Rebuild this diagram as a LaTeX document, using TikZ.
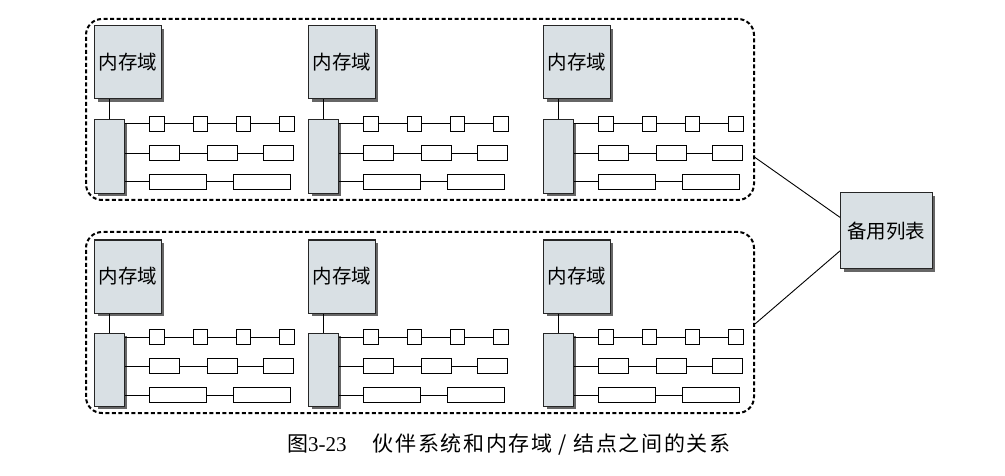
\documentclass[tikz,border=0pt]{standalone}
\usepackage{fontspec}
\setmainfont{Liberation Serif}
\newfontfamily\cjk{Noto Sans CJK SC}
\newfontfamily\cjkwide[LetterSpace=8]{Noto Sans CJK SC}
\usetikzlibrary{shadows,calc}
\definecolor{zonefill}{HTML}{D9E0E4}
\begin{document}
\begin{tikzpicture}[x=1pt,y=-1pt,
  zone/.style={draw=black!85, line width=1.1pt, fill=zonefill, rectangle, inner sep=0pt, anchor=north west,
    drop shadow={shadow xshift=3pt, shadow yshift=-3pt, fill=black!60, opacity=1},
    font=\cjk\fontsize{19.5}{20}\selectfont},
  cell/.style={draw, line width=0.9pt, fill=white, rectangle, inner sep=0pt, anchor=north west, minimum height=14.7pt},
  link/.style={line width=0.9pt},
  group/.style={draw, line width=2pt, dash pattern=on 4pt off 2.5pt, rounded corners=16pt, rectangle,
    inner sep=0pt, anchor=north west, minimum width=668pt, minimum height=181pt}]
\useasboundingbox (0,0) rectangle (1005,476);

\node[group] (g1) at (85,18) {};
\node[group] (g2) at (85,231) {};

\foreach \g/\ZY/\NY in {1/25/119.3, 2/239.5/332.5}{
  \foreach \u/\X in {1/94.3, 2/308.3, 3/543.3}{
    \node[zone, minimum width=66.5pt, minimum height=73pt] (z\g\u) at (\X,\ZY) {内存域};
    \node[zone, minimum width=29.5pt, minimum height=73.3pt] (n\g\u) at (\X,\NY) {};
    \draw[link] (n\g\u.north) -- (n\g\u.north |- z\g\u.south);
    % row 1
    \node[cell, minimum width=14.7pt] (a\g\u1) at ({\X+54.7},{\NY-3.35}) {};
    \node[cell, minimum width=14.7pt] (a\g\u2) at ({\X+98.2},{\NY-3.35}) {};
    \node[cell, minimum width=14.7pt] (a\g\u3) at ({\X+141.4},{\NY-3.35}) {};
    \node[cell, minimum width=14.7pt] (a\g\u4) at ({\X+185},{\NY-3.35}) {};
    \draw[link] (n\g\u.east |- a\g\u1.west) -- (a\g\u1.west);
    \draw[link] (a\g\u1) -- (a\g\u2) (a\g\u2) -- (a\g\u3) (a\g\u3) -- (a\g\u4);
    % row 2
    \node[cell, minimum width=30pt, minimum height=15pt] (b\g\u1) at ({\X+54.7},{\NY+25.9}) {};
    \node[cell, minimum width=30pt, minimum height=15pt] (b\g\u2) at ({\X+112.4},{\NY+25.9}) {};
    \node[cell, minimum width=30pt, minimum height=15pt] (b\g\u3) at ({\X+169},{\NY+25.9}) {};
    \draw[link] (n\g\u.east |- b\g\u1.west) -- (b\g\u1.west);
    \draw[link] (b\g\u1) -- (b\g\u2) (b\g\u2) -- (b\g\u3);
    % row 3
    \node[cell, minimum width=57pt, minimum height=15pt] (c\g\u1) at ({\X+54.7},{\NY+54.5}) {};
    \node[cell, minimum width=57pt, minimum height=15pt] (c\g\u2) at ({\X+138.4},{\NY+54.5}) {};
    \draw[link] (n\g\u.east |- c\g\u1.west) -- (c\g\u1.west);
    \draw[link] (c\g\u1) -- (c\g\u2);
  }
}

\node[zone, minimum width=91.5pt, minimum height=76pt] (spare) at (840,192.3) {备用列表};
\coordinate (p1) at ($(g1.north east)!0.762!(g1.south east)$);
\coordinate (p2) at ($(g2.north east)!0.508!(g2.south east)$);
\draw[link] (p1) -- ($(spare.north west)!0.325!(spare.south west)$);
\draw[link] (p2) -- ($(spare.north west)!0.76!(spare.south west)$);

\node[anchor=west, inner sep=0pt, font=\fontsize{21}{21}\selectfont] (cap) at (287,445)
  {{\cjk 图}3-23\hspace{26pt}{\cjkwide 伙伴系统和内存域 / 结点之间的关系}};
\end{tikzpicture}
\end{document}
